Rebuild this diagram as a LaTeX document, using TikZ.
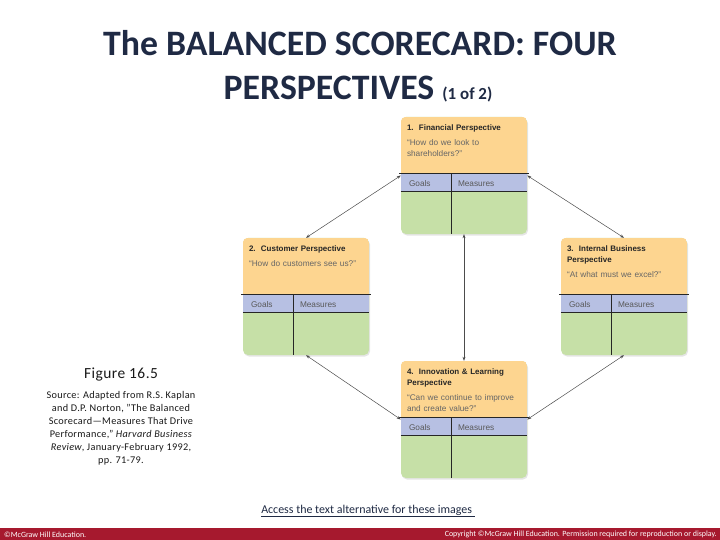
\documentclass[tikz,border=0pt]{standalone}
\usepackage{fontspec}
\setmainfont{Carlito}
\newfontfamily\cardfont{Liberation Sans}
\usetikzlibrary{positioning,arrows.meta,shadows}

\definecolor{titleblue}{HTML}{1F2A44}
\definecolor{cardorange}{HTML}{FDD590}
\definecolor{cardblue}{HTML}{B7C0E3}
\definecolor{cardgreen}{HTML}{C6E0A7}
\definecolor{barred}{HTML}{A6192E}

\tikzset{
  cardbox/.style={minimum width=126bp, minimum height=117bp, inner sep=0pt,
    rounded corners=5bp, fill=cardgreen,
    drop shadow={opacity=0.2, shadow xshift=1bp, shadow yshift=-1.5bp}},
  cardhead/.style={anchor=north west, inner sep=0pt, text width=118bp, align=left,
    font=\cardfont\fontsize{8}{11}\selectfont\bfseries, text=black!85},
  cardquote/.style={inner sep=0pt, text width=120bp, align=left,
    font=\cardfont\fontsize{8.3}{11}\selectfont, text=black!60},
  cardcol/.style={anchor=west, inner sep=0pt,
    font=\cardfont\fontsize{8.3}{9}\selectfont, text=black!65},
  cardline/.style={line width=0.9bp, draw=black!85},
  twoway/.style={{Stealth[length=4bp,width=3bp]}-{Stealth[length=4bp,width=3bp]},
    draw=black!70, line width=0.5bp},
}

% one perspective card: name, left x, top y, heading, question
\newcommand{\drawcard}[5]{%
  \node[cardbox] (#1) at (#2+63,#3+58.5) {};
  \begin{scope}
    \clip[rounded corners=5bp] (#1.south west) rectangle (#1.north east);
    \fill[cardorange] (#1.north west) rectangle ([yshift=-57bp]#1.north east);
    \fill[cardblue] ([yshift=-57bp]#1.north west) rectangle ([yshift=-75bp]#1.north east);
  \end{scope}
  \draw[cardline] ([xshift=-1.5bp,yshift=-57bp]#1.north west) -- ([xshift=1.5bp,yshift=-57bp]#1.north east);
  \draw[cardline] ([yshift=-75bp]#1.north west) -- ([yshift=-75bp]#1.north east);
  \draw[cardline] ([xshift=51bp,yshift=-57bp]#1.north west) -- ([xshift=51bp]#1.south west);
  \node[cardhead] (#1-head) at ([xshift=6bp,yshift=-7.5bp]#1.north west) {#4};
  \node[cardquote, below=7bp of #1-head.south west, anchor=north west] (#1-quote) {#5};
  \node[cardcol] (#1-goals) at ([xshift=8bp,yshift=-66.5bp]#1.north west) {Goals};
  \node[cardcol] (#1-measures) at ([xshift=57bp,yshift=-66.5bp]#1.north west) {Measures};
}

\begin{document}
\begin{tikzpicture}[x=1bp, y=-1bp]

  \useasboundingbox (0,0) rectangle (720,540);
  \fill[white] (0,0) rectangle (720,540);

  % title
  \node[anchor=base, text=titleblue, font=\fontsize{35.9}{40}\selectfont\bfseries] (title1) at (360,56)
    {The BALANCED SCORECARD: FOUR};
  \node[anchor=base, text=titleblue, font=\fontsize{35.9}{40}\selectfont\bfseries] (title2) at (358,100)
    {PERSPECTIVES {\fontsize{17}{17}\selectfont (1 of 2)}};

  % the four cards
  \drawcard{fin}{401}{117}{1.\ \ Financial Perspective}{“How do we look to\\shareholders?”}
  \drawcard{cus}{243}{238}{2.\ \ Customer Perspective}{“How do customers see us?”}
  \drawcard{int}{561}{238}{3.\ \ Internal Business\\Perspective}{“At what must we excel?”}
  \drawcard{inn}{401}{361}{4.\ \ Innovation \& Learning\\Perspective}{“Can we continue to improve\\and create value?”}

  % links between the cards
  \draw[twoway] (fin.west) -- (cus.north);
  \draw[twoway] (fin.east) -- (int.north);
  \draw[twoway] (fin.south) -- (inn.north);
  \draw[twoway] (cus.south) -- (inn.west);
  \draw[twoway] (int.south) -- (inn.east);

  % figure caption and source
  \node[font=\fontsize{15.5}{16}\selectfont\addfontfeature{LetterSpace=3}, text=black!90] (fig) at (121,375) {Figure 16.5};
  \node[below=3bp of fig, align=center, font=\fontsize{10.3}{13}\selectfont\addfontfeature{LetterSpace=3}, text=black!90] (source)
    {Source: Adapted from R.S. Kaplan\\and D.P. Norton, "The Balanced\\Scorecard—Measures That Drive\\Performance,” \textit{Harvard Business}\\\textit{Review}, January-February 1992,\\pp. 71-79.};

  % link to text alternative
  \node[font=\fontsize{12}{13}\selectfont, text=titleblue] (access) at (368,511)
    {\underline{Access the text alternative for these images }};

  % footer bar
  \fill[barred] (0,528) rectangle (720,540);
  \node[anchor=west, inner sep=0pt, text=white, font=\fontsize{8}{8}\selectfont] (left) at (4,534.5)
    {©McGraw Hill Education.};
  \node[anchor=east, inner sep=0pt, text=white, font=\fontsize{8}{8}\selectfont] (right) at (717,534.5)
    {Copyright ©McGraw Hill Education. Permission required for reproduction or display.};

\end{tikzpicture}
\end{document}
